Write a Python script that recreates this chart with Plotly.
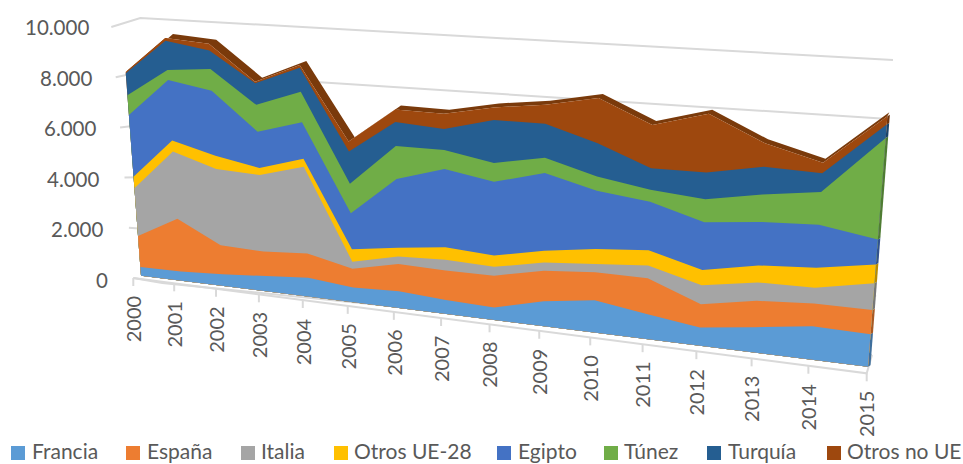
import plotly.graph_objects as go

years = list(range(2000, 2016))
francia = [350, 360, 450, 590, 720, 550, 620, 510, 450, 880, 1130, 860, 620, 850, 1100, 1060]
espana = [1230, 2070, 1130, 930, 920, 700, 1010, 1070, 1140, 1090, 980, 1240, 790, 890, 760, 800]
italia = [1890, 2640, 2950, 2930, 3280, 270, 270, 390, 320, 290, 290, 440, 650, 620, 520, 880]
otros_ue = [460, 430, 520, 270, 300, 460, 330, 460, 410, 420, 530, 530, 520, 570, 670, 610]
egipto = [2450, 2370, 2520, 1390, 1380, 1350, 2530, 2850, 2650, 2760, 2040, 1680, 1630, 1470, 1430, 820]
tunez = [780, 400, 840, 1030, 1160, 1100, 1220, 700, 680, 540, 500, 410, 790, 920, 1090, 3330]
turquia = [870, 1140, 720, 830, 910, 1210, 890, 760, 1550, 1210, 1170, 750, 910, 940, 620, 440]
otros_no_ue = [50, 110, 260, 60, 100, 370, 460, 560, 450, 680, 1580, 1500, 2010, 790, 350, 270]

series_names = ["Francia", "España", "Italia", "Otros UE-28", "Egipto", "Túnez", "Turquía", "Otros no UE"]
series_values = [francia, espana, italia, otros_ue, egipto, tunez, turquia, otros_no_ue]
series_colors = ["#5B9BD5", "#ED7D31", "#A5A5A5", "#FFC000", "#4472C4", "#70AD47", "#255E91", "#9E480E"]
side_colors = ["#3F6F9C", "#A85A24", "#777777", "#B88B00", "#30528E", "#4F7C33", "#1A4368", "#6F330A"]
value_ticks = [0, 2000, 4000, 6000, 8000, 10000]
value_labels = ["0", "2.000", "4.000", "6.000", "8.000", "10.000"]

TXT = "#595959"
GRID = "#D9D9D9"
FONT = "Lato"


def persp(i):
    u = i / 15
    return u / (u + (1 - u) * 1.21)


def front(i, v):
    t = persp(i)
    x0 = 141 + 727 * t
    y0 = 275.7 + 91 * t
    h = (0.0252 + 0.0053 * t) * v
    return x0 + 2.1e-4 * (x0 - 500) * h, y0 - h


def back(i, v):
    t = persp(i)
    x, y = front(i, v)
    return x + 8 - 6 * t, y - 4


def axis_pt(i):
    t = persp(i)
    return 133.3 + 733.4 * t, 278 + 95.3 * t


fig = go.Figure()


def poly(xs, ys, color, width=0):
    fig.add_trace(go.Scatter(x=xs, y=ys, mode="lines", fill="toself", fillcolor=color,
                             line=dict(color=color, width=width), hoverinfo="skip", showlegend=False))


def line(xs, ys, color=GRID, width=2):
    fig.add_trace(go.Scatter(x=xs, y=ys, mode="lines", line=dict(color=color, width=width),
                             hoverinfo="skip", showlegend=False))


# walls and gridlines
for v in value_ticks:
    xs = [133.3 - 0.0022 * v, 162.3 - 0.0022 * v, 872 + 0.0021 * v]
    ys = [278 - 0.0251 * v, 283 - 0.0265 * v, 355 - 0.0295 * v]
    line(xs, ys)

# front axis and ticks
ax0, ay0 = axis_pt(0)
ax1, ay1 = axis_pt(15)
line([ax0, ax1, 872], [ay0, ay1, 355])
for i in range(16):
    ax, ay = axis_pt(i)
    line([ax, ax], [ay, ay + 8])

# cumulative stack
cum = []
running = [0] * 16
for vals in series_values:
    running = [a + b for a, b in zip(running, vals)]
    cum.append(running)

idx = list(range(16))

# top surface of the stack, seen behind the front face
top = cum[-1]
pts_f = [front(i, top[i]) for i in idx]
pts_b = [back(i, top[i]) for i in idx]
poly([p[0] for p in pts_f] + [p[0] for p in pts_b[::-1]],
     [p[1] for p in pts_f] + [p[1] for p in pts_b[::-1]], "#7A3A0B")

# right-hand side faces
prev = [0] * 16
for k, c in enumerate(cum):
    a = front(15, prev[15]); b = front(15, c[15])
    poly([a[0], b[0], b[0] + 2.5, a[0] + 2.5], [a[1], b[1], b[1] - 1.5, a[1] - 1.5], side_colors[k])
    prev = c

# front faces, painted top layer first, each down to the baseline
for k in range(len(cum) - 1, -1, -1):
    pts = [front(i, cum[k][i]) for i in idx]
    base = [front(i, 0) for i in idx[::-1]]
    poly([p[0] for p in pts] + [p[0] for p in base],
         [p[1] for p in pts] + [p[1] for p in base], series_colors[k])

annotations = []
for v, lab in zip(value_ticks, value_labels):
    annotations.append(dict(x=110 - 0.0019 * v, y=280 - 0.0253 * v, text=lab, showarrow=False,
                            xanchor="right", yanchor="middle", font=dict(family=FONT, size=20.5, color=TXT)))
for i, yr in enumerate(years):
    ax, ay = axis_pt(i)
    annotations.append(dict(x=ax, y=ay + 17, text=str(yr), textangle=-90, showarrow=False,
                            xanchor="center", yanchor="top", borderpad=0, font=dict(family=FONT, size=20, color=TXT)))

# legend
swatch_x = [18, 133, 248, 341, 504, 611, 714, 834]
text_x = [31, 146, 260, 353, 517, 623, 727, 846]
fig.add_trace(go.Scatter(x=swatch_x, y=[453] * 8, mode="markers",
                         marker=dict(symbol="square", size=14, color=series_colors),
                         hoverinfo="skip", showlegend=False))
for tx, name in zip(text_x, series_names):
    annotations.append(dict(x=tx, y=464, text=name, showarrow=False, xanchor="left", yanchor="bottom",
                            borderpad=0, font=dict(family=FONT, size=21, color=TXT)))

fig.update_layout(
    width=963, height=464, margin=dict(l=0, r=0, t=0, b=0),
    paper_bgcolor="white", plot_bgcolor="white", showlegend=False,
    xaxis=dict(range=[0, 963], visible=False, fixedrange=True),
    yaxis=dict(range=[464, 0], visible=False, fixedrange=True),
    annotations=annotations,
)
fig.write_html("out.html", config=dict(displayModeBar=False),
               post_script="document.body.style.margin='0';document.documentElement.style.overflow='hidden';")
